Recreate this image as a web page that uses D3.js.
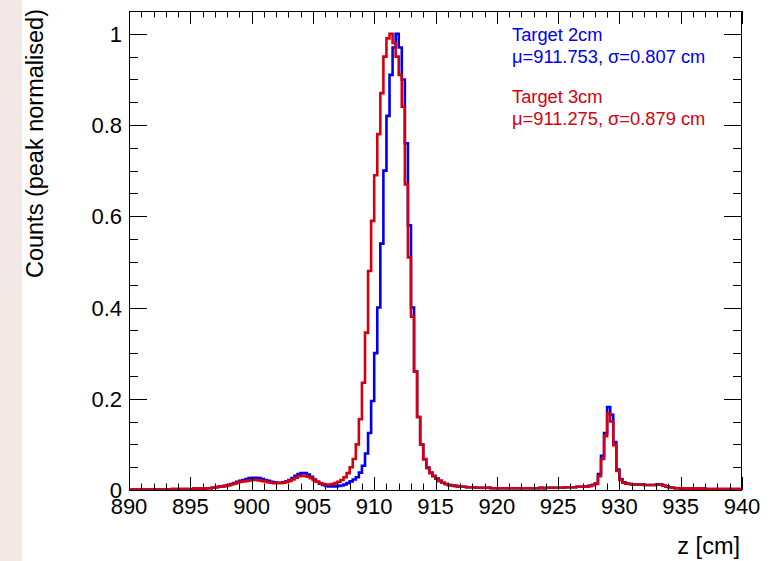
<!DOCTYPE html>
<html><head><meta charset="utf-8">
<script src="https://cdn.jsdelivr.net/npm/d3@7"></script>
<style>
body{margin:0;background:#fff}
svg{display:block}
text{font-family:"Liberation Sans",Arial,Helvetica,sans-serif;fill:#000}
</style>
</head><body>
<svg id="chart" width="770" height="561"></svg>
<script>
// ---- data ----
const binStart = 890;
const binWidth = 0.25;
const target2cm = [
 0.001,0.001,0.001,0.001,0.001,0.001,0.001,0.001,
 0.001,0.001,0.001,0.001,0.001,0.001,0.002,0.002,
 0.002,0.002,0.002,0.002,0.002,0.003,0.003,0.003,
 0.003,0.004,0.004,0.005,0.006,0.007,0.008,0.009,
 0.011,0.013,0.015,0.018,0.020,0.022,0.024,0.026,
 0.027,0.027,0.026,0.024,0.022,0.020,0.018,0.017,
 0.016,0.016,0.017,0.019,0.022,0.026,0.031,0.035,
 0.037,0.037,0.034,0.029,0.023,0.018,0.014,0.011,
 0.009,0.008,0.008,0.008,0.009,0.010,0.012,0.015,
 0.019,0.023,0.028,0.038,0.053,0.080,0.125,0.195,
 0.30,0.40,0.54,0.70,0.82,0.91,0.97,1.00,
 0.97,0.90,0.76,0.58,0.40,0.26,0.16,0.10,
 0.068,0.049,0.038,0.031,0.025,0.020,0.016,0.013,
 0.011,0.010,0.009,0.008,0.007,0.007,0.006,0.006,
 0.006,0.005,0.005,0.005,0.005,0.005,0.004,0.004,
 0.004,0.004,0.004,0.004,0.004,0.004,0.004,0.004,
 0.004,0.004,0.004,0.004,0.004,0.004,0.005,0.004,
 0.005,0.005,0.005,0.005,0.005,0.005,0.006,0.006,
 0.006,0.006,0.007,0.007,0.007,0.008,0.009,0.011,
 0.014,0.035,0.075,0.125,0.182,0.165,0.105,0.045,
 0.024,0.017,0.014,0.013,0.012,0.012,0.012,0.012,
 0.011,0.011,0.011,0.011,0.012,0.012,0.010,0.008,
 0.006,0.005,0.004,0.004,0.003,0.003,0.003,0.003,
 0.003,0.003,0.003,0.003,0.002,0.002,0.002,0.002,
 0.002,0.002,0.002,0.002,0.002,0.002,0.002,0.002
];
const target3cm = [
 0.001,0.001,0.001,0.001,0.001,0.001,0.001,0.001,
 0.001,0.001,0.001,0.001,0.001,0.001,0.002,0.002,
 0.002,0.002,0.002,0.002,0.002,0.003,0.003,0.003,
 0.003,0.004,0.004,0.005,0.006,0.007,0.008,0.009,
 0.010,0.012,0.014,0.016,0.018,0.019,0.020,0.021,
 0.022,0.022,0.021,0.020,0.019,0.017,0.016,0.015,
 0.015,0.015,0.016,0.018,0.020,0.023,0.027,0.030,
 0.031,0.031,0.029,0.026,0.022,0.018,0.015,0.013,
 0.012,0.012,0.013,0.015,0.018,0.022,0.028,0.037,
 0.050,0.068,0.100,0.155,0.235,0.345,0.48,0.59,
 0.69,0.78,0.87,0.95,0.99,1.00,0.98,0.95,
 0.91,0.84,0.67,0.51,0.38,0.26,0.16,0.10,
 0.067,0.048,0.037,0.030,0.025,0.020,0.016,0.013,
 0.011,0.010,0.009,0.008,0.007,0.007,0.006,0.006,
 0.006,0.005,0.005,0.005,0.005,0.005,0.004,0.004,
 0.004,0.004,0.004,0.004,0.004,0.004,0.004,0.004,
 0.004,0.004,0.004,0.004,0.004,0.004,0.005,0.004,
 0.005,0.005,0.005,0.005,0.005,0.005,0.006,0.006,
 0.006,0.006,0.007,0.007,0.007,0.008,0.009,0.011,
 0.013,0.030,0.068,0.118,0.168,0.150,0.098,0.042,
 0.022,0.016,0.014,0.013,0.012,0.012,0.012,0.012,
 0.011,0.011,0.011,0.011,0.012,0.012,0.010,0.008,
 0.006,0.005,0.004,0.004,0.003,0.003,0.003,0.003,
 0.003,0.003,0.003,0.003,0.002,0.002,0.002,0.002,
 0.002,0.002,0.002,0.002,0.002,0.002,0.002,0.002
];
const xDomain = [890, 940];
const yDomain = [0, 1.05];
const xMajorTicks = [890, 895, 900, 905, 910, 915, 920, 925, 930, 935, 940];
const yMajorTicks = [0, 0.2, 0.4, 0.6, 0.8, 1];
const yTickLabels = ["0", "0.2", "0.4", "0.6", "0.8", "1"];
const seriesNames = ["Target 2cm", "Target 3cm"];
const seriesStats = ["\u03bc=911.753, \u03c3=0.807 cm", "\u03bc=911.275, \u03c3=0.879 cm"];
const seriesColors = ["#0000ee", "#d40010"];
const xTitle = "z [cm]";
const yTitle = "Counts (peak normalised)";

// ---- layout ----
const W = 770, H = 561;
const L = 129, R = 742, T = 11, B = 490;
const svg = d3.select("#chart");
svg.append("rect").attr("x", 0).attr("y", 0).attr("width", W).attr("height", H).attr("fill", "#fff");
svg.append("rect").attr("x", 0).attr("y", 0).attr("width", 22).attr("height", H).attr("fill", "#f2e9e7");

const x = d3.scaleLinear().domain(xDomain).range([L, R]);
const y = d3.scaleLinear().domain(yDomain).range([B, T]);

// histograms
function stepPoints(vals) {
  const pts = [];
  vals.forEach((v, i) => {
    const x0 = binStart + i * binWidth, x1 = x0 + binWidth;
    pts.push([x0, v]); pts.push([x1, v]);
  });
  return pts;
}
const line = d3.line().x(d => x(d[0])).y(d => y(d[1]));
svg.append("clipPath").attr("id", "clip").append("rect")
  .attr("x", L).attr("y", T).attr("width", R - L).attr("height", B - T);
const g = svg.append("g").attr("clip-path", "url(#clip)");
[target2cm, target3cm].forEach((vals, k) => {
  g.append("path").datum(stepPoints(vals)).attr("d", line)
    .attr("fill", "none").attr("stroke", seriesColors[k])
    .attr("stroke-width", 2.6).attr("stroke-linejoin", "miter");
});

// ticks
const ax = svg.append("g").attr("stroke", "#000").attr("stroke-width", 1);
const xMinor = d3.range(xDomain[0], xDomain[1] + 0.001, 1);
xMinor.forEach(v => {
  const major = xMajorTicks.includes(Math.round(v));
  const len = major ? 13 : 6.5;
  const px = Math.round(x(v)) + 0.5;
  ax.append("line").attr("x1", px).attr("x2", px).attr("y1", B).attr("y2", B - len);
  ax.append("line").attr("x1", px).attr("x2", px).attr("y1", T).attr("y2", T + len);
});
const yMinor = d3.range(0, 1.0001, 0.05);
yMinor.forEach(v => {
  const major = yMajorTicks.some(t => Math.abs(t - v) < 1e-6);
  const len = major ? 18 : 9;
  const py = Math.round(y(v)) + 0.5;
  ax.append("line").attr("x1", L).attr("x2", L + len).attr("y1", py).attr("y2", py);
  ax.append("line").attr("x1", R).attr("x2", R - len).attr("y1", py).attr("y2", py);
});
// frame
svg.append("rect").attr("x", L + 0.5).attr("y", T + 0.5).attr("width", R - L - 1).attr("height", B - T)
  .attr("fill", "none").attr("stroke", "#000").attr("stroke-width", 1);

// labels
const fs = 22;
const tfs = 23.5;
xMajorTicks.forEach(v => {
  svg.append("text").attr("x", x(v)).attr("y", 514).attr("text-anchor", "middle")
    .attr("font-size", fs).text(v);
});
yMajorTicks.forEach((v, i) => {
  svg.append("text").attr("x", 122).attr("y", y(v) + 8).attr("text-anchor", "end")
    .attr("font-size", fs).text(yTickLabels[i]);
});
svg.append("text").attr("x", 740).attr("y", 554).attr("text-anchor", "end")
  .attr("font-size", tfs).text(xTitle);
svg.append("text").attr("transform", "translate(43,9) rotate(-90)").attr("text-anchor", "end")
  .attr("font-size", tfs).text(yTitle);

// legend texts
const legY = [[41, 63], [103, 125]];
seriesNames.forEach((n, k) => {
  svg.append("text").attr("x", 512).attr("y", legY[k][0]).attr("font-size", 18.3)
    .style("fill", seriesColors[k]).text(n);
  svg.append("text").attr("x", 512).attr("y", legY[k][1]).attr("font-size", 18.3)
    .style("fill", seriesColors[k]).text(seriesStats[k]);
});
</script>
</body></html>
